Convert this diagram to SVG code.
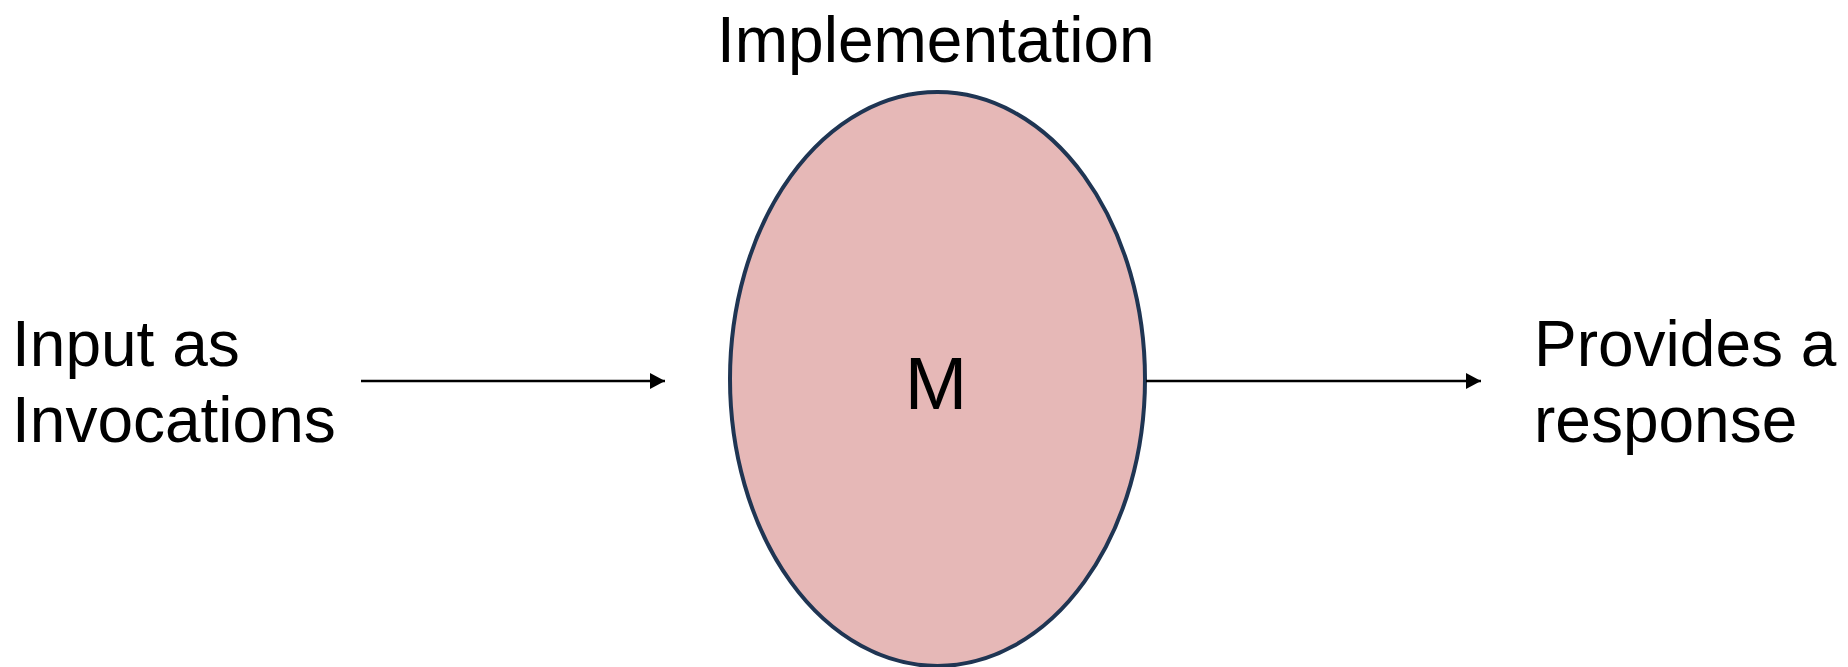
<svg xmlns="http://www.w3.org/2000/svg" width="1848" height="667" viewBox="0 0 1848 667">
  <style>
    .label { font-family: "Liberation Sans", Arial, sans-serif; font-size: 64px; fill: #000000; }
    .core { fill: #E6B8B7; stroke: #1F3553; stroke-width: 4; }
    .core-text { font-family: "Liberation Sans", Arial, sans-serif; font-size: 75px; fill: #000000; text-anchor: middle; }
    .flow { stroke: #000000; stroke-width: 2.5; fill: none; }
  </style>
  <defs>
    <marker id="arrowhead" markerUnits="userSpaceOnUse" markerWidth="16" markerHeight="18" refX="15" refY="8" orient="auto">
      <path d="M0,0 L15,8 L0,16 Z" fill="#000000"/>
    </marker>
  </defs>
  <rect width="1848" height="667" fill="#FFFFFF"/>

  <!-- Input label -->
  <g id="input">
    <text class="label" x="12" y="366">Input as</text>
    <text class="label" x="12" y="442">Invocations</text>
  </g>

  <!-- Implementation node -->
  <g id="implementation">
    <text class="label" x="717" y="62">Implementation</text>
    <ellipse class="core" cx="937.5" cy="379" rx="207.5" ry="287"/>
    <text class="core-text" x="936" y="409">M</text>
  </g>

  <!-- Output label -->
  <g id="output">
    <text class="label" x="1534" y="366">Provides a</text>
    <text class="label" x="1534" y="442">response</text>
  </g>

  <!-- Connectors -->
  <g id="connectors">
    <line class="flow" x1="361" y1="381" x2="665" y2="381" marker-end="url(#arrowhead)"/>
    <line class="flow" x1="1146" y1="381" x2="1481" y2="381" marker-end="url(#arrowhead)"/>
  </g>
</svg>
